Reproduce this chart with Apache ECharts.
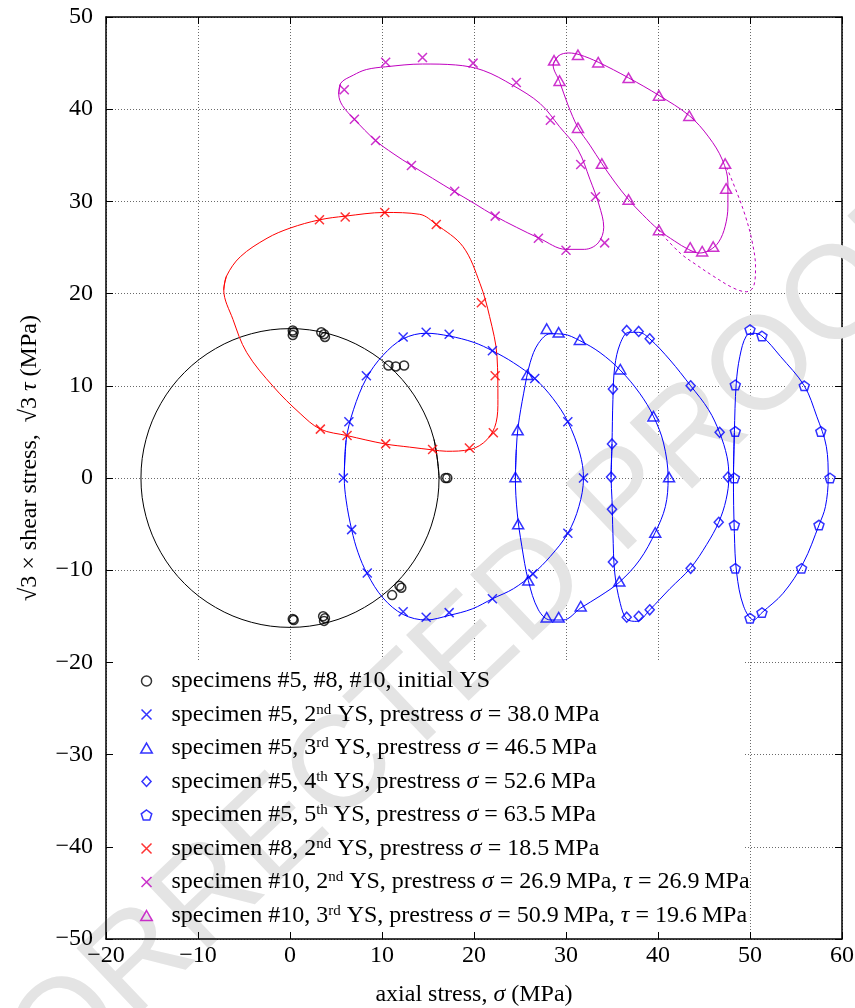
<!DOCTYPE html>
<html>
<head>
<meta charset="utf-8">
<title>Subsequent yield surfaces</title>
<script src="https://cdn.jsdelivr.net/npm/echarts@6/dist/echarts.min.js"></script>
<style>
  html, body { margin: 0; padding: 0; background: #fff; }
  #chart { width: 855px; height: 1008px; }
</style>
</head>
<body>
<div id="chart"></div>
<script>
// measured yield points [axial stress, sqrt(3) * shear stress] in MPa
const initialYS = [[0.3,16.0],[0.4,15.8],[0.3,15.5],[3.4,15.8],[3.7,15.6],[3.8,15.3],[10.7,12.2],[11.5,12.1],[12.4,12.2],[16.9,0.0],[17.1,0.0],[11.1,-12.7],[11.9,-11.7],[12.1,-11.9],[0.3,-15.3],[0.4,-15.4],[3.6,-15.0],[3.8,-15.2],[3.7,-15.5]]
const spec5nd2 = [[5.8,0.0],[6.4,6.1],[8.3,11.1],[12.3,15.3],[14.8,15.8],[17.3,15.6],[22.0,13.8],[26.6,10.8],[30.2,6.1],[31.9,0.0],[30.2,-6.0],[26.4,-10.4],[22.0,-13.1],[17.3,-14.6],[14.8,-15.1],[12.3,-14.5],[8.4,-10.3],[6.7,-5.6]]
const spec5rd3 = [[24.5,0.1],[24.75,5.2],[25.8,11.2],[27.9,16.2],[29.2,15.8],[31.5,15.0],[35.9,11.8],[39.5,6.7],[41.2,0.1],[39.7,-5.9],[35.8,-11.2],[31.6,-13.9],[29.2,-15.1],[27.9,-15.1],[25.9,-11.1],[24.8,-5.0]]
const spec5th4 = [[34.9,0.1],[35.0,3.7],[35.1,9.65],[36.6,16.0],[37.9,15.9],[39.1,15.1],[43.55,10.0],[46.7,4.95],[47.6,0.1],[46.6,-4.8],[43.55,-9.8],[39.1,-14.3],[37.9,-15.0],[36.6,-15.1],[35.1,-9.1],[35.0,-3.4]]
const spec5th5 = [[48.3,0.0],[48.4,5.05],[48.4,10.1],[50.0,16.1],[51.3,15.4],[55.9,10.0],[57.7,5.05],[58.7,0.0],[57.5,-5.1],[55.6,-9.8],[51.3,-14.6],[50.0,-15.2],[48.4,-9.8],[48.3,-5.1]]
const spec8nd2 = [[3.2,28.0],[6.0,28.3],[10.3,28.8],[15.9,27.5],[20.8,19.0],[22.3,11.1],[22.1,4.9],[19.5,3.25],[15.5,3.1],[10.4,3.7],[6.2,4.6],[3.3,5.3]]
const spec10nd2 = [[5.9,42.1],[10.4,45.1],[14.4,45.6],[19.9,45.0],[24.6,42.9],[28.3,38.8],[31.6,34.0],[33.2,30.5],[34.2,25.5],[30.0,24.7],[27.0,26.0],[22.3,28.4],[17.9,31.1],[13.2,33.9],[9.3,36.6],[7.0,38.9]]
const spec10rd3 = [[28.7,45.3],[31.3,45.9],[33.5,45.1],[36.8,43.4],[40.1,41.5],[43.4,39.3],[47.3,34.1],[47.4,31.4],[46.0,25.1],[44.8,24.6],[43.5,25.0],[40.1,26.9],[36.8,30.2],[33.9,34.1],[31.3,38.0],[29.3,43.1]]

// fitted yield surfaces
const initialCurve = [[16.2,0],[15.65,4.19],[14.03,8.1],[11.46,11.46],[8.1,14.03],[4.19,15.65],[0,16.2],[-4.19,15.65],[-8.1,14.03],[-11.46,11.46],[-14.03,8.1],[-15.65,4.19],[-16.2,0],[-15.65,-4.19],[-14.03,-8.1],[-11.46,-11.46],[-8.1,-14.03],[-4.19,-15.65],[0,-16.2],[4.19,-15.65],[8.1,-14.03],[11.46,-11.46],[14.03,-8.1],[15.65,-4.19]]
const spec5nd2Curve = [[5.9,0],[6.1,4.1],[6.9,7.4],[8.3,10.8],[10.1,13.3],[12.3,15.1],[14.8,15.7],[17.3,15.4],[20.0,14.7],[22.0,13.8],[24.3,12.5],[26.6,10.8],[28.6,8.6],[30.2,6.1],[31.5,2.7],[31.9,0],[31.4,-3.1],[30.2,-6.0],[28.3,-8.5],[26.4,-10.4],[24.3,-12.0],[22.0,-13.1],[19.8,-14.2],[17.3,-14.9],[14.8,-15.4],[12.3,-14.8],[10.1,-13.0],[8.4,-10.4],[7.4,-8.1],[6.7,-5.6],[6.1,-2.4]]
const spec5rd3Curve = [[24.5,0],[24.6,3.1],[24.8,5.6],[25.4,9.2],[26.1,12.5],[27.0,14.6],[28.3,15.65],[29.7,15.6],[31.5,14.9],[33.7,13.6],[35.9,11.7],[38.0,9.2],[39.5,6.7],[40.6,3.8],[41.1,0],[40.8,-3.1],[39.7,-5.9],[38.0,-8.9],[35.8,-11.3],[33.7,-12.8],[31.6,-14.1],[29.7,-15.4],[28.3,-15.4],[27.0,-14.3],[25.9,-11.1],[25.2,-7.4],[24.7,-3.8]]
const spec5th4Curve = [[34.9,0.1],[35.0,3.7],[35.1,8.5],[35.3,12.1],[35.9,14.6],[36.8,15.8],[37.9,15.8],[39.1,15.1],[41.3,12.8],[43.55,10.0],[45.5,7.4],[46.7,4.9],[47.5,2.3],[47.7,0.1],[47.4,-2.35],[46.6,-4.8],[45.3,-7.2],[43.55,-9.75],[41.3,-12.0],[39.1,-14.3],[37.7,-15.55],[36.6,-15.3],[35.9,-13.6],[35.3,-10.3],[35.1,-6.0],[35.0,-2.35]]
const spec5th5Curve = [[48.2,0],[48.3,4.9],[48.5,10.2],[48.9,13.2],[49.6,15.4],[50.4,15.7],[51.3,15.4],[53.3,13.2],[55.9,10.0],[57.25,6.7],[58.3,3.4],[58.5,0],[58.2,-3.1],[57.5,-5.1],[55.8,-9.2],[53.6,-12.5],[51.3,-14.6],[50.4,-15.4],[49.3,-13.9],[48.55,-10.3],[48.3,-6.0]]
const spec8nd2Curve = [[-7.2,20.4],[-6.9,21.9],[-5.4,24.0],[-2.5,26.0],[0,27.1],[3.2,28.0],[6.0,28.4],[10.3,28.8],[14.1,28.6],[15.9,27.5],[18.8,25.1],[20.65,21.1],[21.7,17.5],[22.5,13.2],[22.6,8.5],[22.4,6.0],[21.4,4.15],[19.6,3.1],[17.0,2.9],[15.5,3.05],[13.0,3.35],[10.3,3.7],[6.2,4.6],[3.3,5.3],[1.1,7.0],[-1.8,9.9],[-4.7,13.6],[-6.2,17.2]]
const spec10nd2Curve = [[5.3,41.6],[5.5,42.8],[6.9,43.7],[8.3,44.3],[10.4,44.6],[14.4,44.9],[18.0,44.8],[21.0,44.2],[24.2,42.6],[27.2,40.6],[29.3,38.1],[31.3,35.6],[32.6,32.4],[33.6,29.6],[34.1,27.2],[33.5,25.5],[32.0,24.8],[30.0,24.8],[27.1,26.0],[24.6,27.2],[22.3,28.4],[20.0,29.8],[17.8,31.1],[15.5,32.5],[13.2,33.9],[11.2,35.2],[9.3,36.6],[7.0,38.9],[5.7,40.4]]
const spec10rd3Curve = [[28.6,44.8],[29.2,45.8],[30.3,46.1],[31.5,45.9],[33.5,45.1],[36.8,43.4],[40.1,41.5],[43.4,39.3],[45.5,37.0],[47.0,34.5],[47.6,32.0],[47.6,29.5],[47.3,27.3],[46.6,25.6],[45.6,24.7],[44.5,24.4],[43.3,24.8],[41.8,25.7],[40.1,26.9],[38.3,28.6],[36.8,30.2],[35.3,32.1],[33.9,34.1],[32.6,36.1],[31.3,38.0],[30.2,40.5],[29.3,43.0]]
const spec10rd3Dashed = [[40.0,26.9],[42.4,24.4],[44.2,23.1],[46.0,21.9],[48.2,20.6],[49.6,20.2],[50.4,20.8],[50.6,22.9],[50.2,25.8],[49.5,28.4],[48.6,30.9],[47.5,33.6]]

const xRange = [-20, 60]
const yRange = [-50, 50]
const tickStep = 10

const legendNames = ['initial', 's5_2', 's5_3', 's5_4', 's5_5', 's8_2', 's10_2', 's10_3']
const legendLabels = [
  '{t|specimens #5, #8, #10, initial YS}',
  '{t|specimen #5, 2}{s|nd}{t| YS, prestress }{i|σ}{t| = 38.0\u2009MPa}',
  '{t|specimen #5, 3}{s|rd}{t| YS, prestress }{i|σ}{t| = 46.5\u2009MPa}',
  '{t|specimen #5, 4}{s|th}{t| YS, prestress }{i|σ}{t| = 52.6\u2009MPa}',
  '{t|specimen #5, 5}{s|th}{t| YS, prestress }{i|σ}{t| = 63.5\u2009MPa}',
  '{t|specimen #8, 2}{s|nd}{t| YS, prestress }{i|σ}{t| = 18.5\u2009MPa}',
  '{t|specimen #10, 2}{s|nd}{t| YS, prestress }{i|σ}{t| = 26.9\u2009MPa, }{i|τ}{t| = 26.9\u2009MPa}',
  '{t|specimen #10, 3}{s|rd}{t| YS, prestress }{i|σ}{t| = 50.9\u2009MPa, }{i|τ}{t| = 19.6\u2009MPa}'
]

const BLUE = '#0000ff'
const RED = '#ff0000'
const MAGENTA = '#c000c0'
const BLACK = '#000000'
const FONT = '"Liberation Serif", "DejaVu Serif", serif'

const SYM = {
  circle: 'path://M10,5A5,5,0,1,1,0,5A5,5,0,1,1,10,5Z',
  cross: 'path://M0,0L10,10M10,0L0,10',
  triangle: 'path://M5,0L10,8.66L0,8.66Z',
  diamond: 'path://M5,0L10,5.5L5,11L0,5.5Z',
  pentagon: 'path://M5,0L9.76,3.45L7.94,9.05L2.06,9.05L0.24,3.45Z'
}

const closeLoop = pts => pts.concat([pts[0], pts[1]])

const curve = (pts, color, dashed) => ({
  type: 'line',
  data: dashed ? pts : closeLoop(pts),
  smooth: 0.35,
  symbol: 'none',
  silent: true,
  lineStyle: { color, width: 1, type: dashed ? [3, 3] : 'solid' },
  z: 2
})

const markers = (name, pts, color, symbol, size) => ({
  type: 'scatter',
  name,
  data: pts,
  symbol,
  symbolSize: size,
  symbolKeepAspect: true,
  itemStyle: { color: 'rgba(0,0,0,0)', borderColor: color, borderWidth: 1.5 },
  z: 3
})

const markerSets = [
  markers('initial', initialYS, BLACK, SYM.circle, 9),
  markers('s5_2', spec5nd2, BLUE, SYM.cross, 9),
  markers('s5_3', spec5rd3, BLUE, SYM.triangle, 11),
  markers('s5_4', spec5th4, BLUE, SYM.diamond, 10),
  markers('s5_5', spec5th5, BLUE, SYM.pentagon, 10),
  markers('s8_2', spec8nd2, RED, SYM.cross, 9),
  markers('s10_2', spec10nd2, MAGENTA, SYM.cross, 9),
  markers('s10_3', spec10rd3, MAGENTA, SYM.triangle, 11)
]

const curves = [
  curve(initialCurve, BLACK),
  curve(spec5nd2Curve, BLUE),
  curve(spec5rd3Curve, BLUE),
  curve(spec5th4Curve, BLUE),
  curve(spec5th5Curve, BLUE),
  curve(spec8nd2Curve, RED),
  curve(spec10nd2Curve, MAGENTA),
  curve(spec10rd3Curve, MAGENTA),
  curve(spec10rd3Dashed, MAGENTA, true)
]

const minusLabel = v => (v < 0 ? '\u2212' + Math.abs(v) : String(v))

const frameAxis = (pos, range, extra) => Object.assign({
  type: 'value',
  position: pos,
  min: range[0],
  max: range[1],
  interval: tickStep,
  axisLine: { show: true, onZero: false, lineStyle: { color: BLACK, width: 1.5 } },
  axisTick: { show: true, inside: true, length: 7, lineStyle: { color: BLACK, width: 1 } },
  axisLabel: { show: false },
  splitLine: { show: false }
}, extra)

const gridLines = { show: true, lineStyle: { color: '#6a6a6a', width: 1, type: [1, 2] } }
const labelStyle = { color: BLACK, fontFamily: FONT, fontSize: 24 }

const chart = echarts.init(document.getElementById('chart'))

chart.setOption({
  animation: false,
  backgroundColor: '#fff',
  grid: { left: 106, right: 13, top: 17, bottom: 69, containLabel: false, outerBoundsMode: 'none' },
  xAxis: [
    frameAxis('bottom', xRange, {
      z: 3,
      axisLabel: Object.assign({ show: true, margin: 5, formatter: minusLabel }, labelStyle),
      name: 'axial stress, {i|σ} (MPa)',
      nameLocation: 'middle',
      nameGap: 44,
      nameTextStyle: Object.assign({ rich: { i: Object.assign({ fontStyle: 'italic' }, labelStyle) } }, labelStyle)
    }),
    frameAxis('top', xRange, { splitLine: gridLines })
  ],
  yAxis: [
    frameAxis('left', yRange, {
      z: 3,
      axisLabel: Object.assign({ show: true, margin: 13, formatter: minusLabel }, labelStyle),
      name: '√3 × shear stress,  √3 {i|τ} (MPa)',
      nameLocation: 'middle',
      nameGap: 64,
      nameTextStyle: Object.assign({
        padding: [0, 0, 0, 40],
        rich: { i: Object.assign({ fontStyle: 'italic' }, labelStyle) }
      }, labelStyle)
    }),
    frameAxis('right', yRange, { splitLine: gridLines })
  ],
  legend: {
    orient: 'vertical',
    left: 121,
    top: 664,
    padding: [5, 0, 0, 19],
    itemWidth: 40,
    itemHeight: 10,
    itemGap: 9.5,
    symbolKeepAspect: true,
    selectedMode: false,
    formatter: name => legendLabels[legendNames.indexOf(name)],
    textStyle: {
      color: BLACK,
      fontFamily: FONT,
      fontSize: 24,
      rich: {
        t: { color: BLACK, fontFamily: FONT, fontSize: 24, lineHeight: 24 },
        i: { color: BLACK, fontFamily: FONT, fontSize: 24, lineHeight: 24, fontStyle: 'italic' },
        s: { color: BLACK, fontFamily: FONT, fontSize: 15, verticalAlign: 'top' }
      }
    },
    data: markerSets.map(s => ({
      name: s.name,
      icon: s.symbol,
      itemStyle: { color: 'rgba(0,0,0,0)', borderColor: s.itemStyle.borderColor, borderWidth: 1.5 }
    })),
    z: 4
  },
  graphic: [
    {
      type: 'rect',
      silent: true,
      z: 1,
      shape: { x: 107, y: 662, width: 637, height: 276 },
      style: { fill: '#fff' }
    },
    {
      type: 'text',
      silent: true,
      z: 1,
      x: 380,
      y: 735,
      rotation: 0.76,
      style: {
        text: 'UNCORRECTED PROOF',
        fontFamily: '"Liberation Sans", Arial, sans-serif',
        fontSize: 132,
        fill: '#e4e4e4',
        align: 'center',
        verticalAlign: 'middle'
      }
    }
  ],
  series: curves.concat(markerSets)
})
</script>
</body>
</html>
